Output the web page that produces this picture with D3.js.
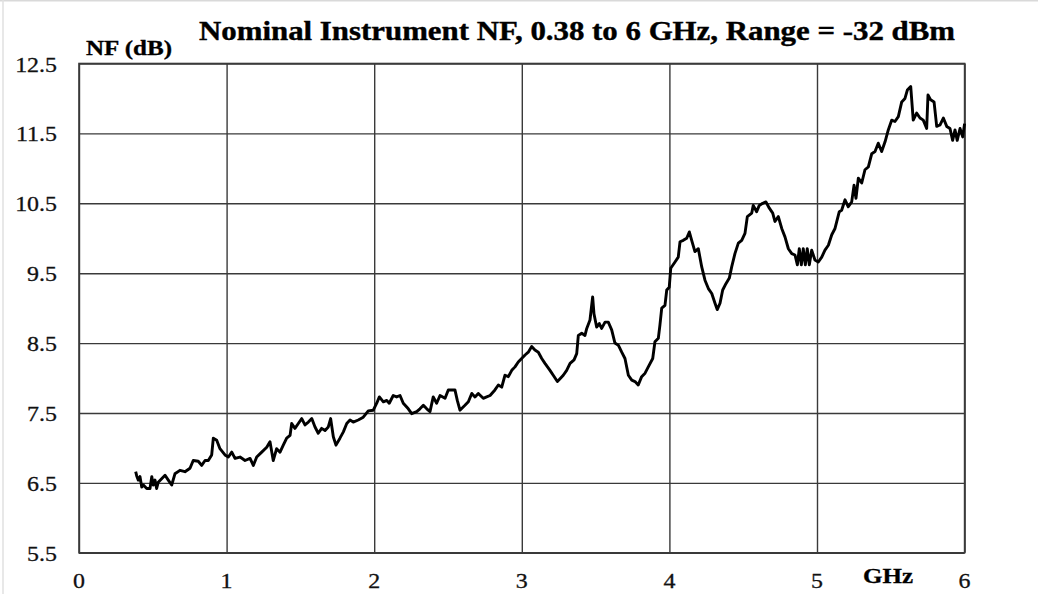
<!DOCTYPE html>
<html><head><meta charset="utf-8">
<script src="https://cdn.jsdelivr.net/npm/d3@7"></script>
<style>html,body{margin:0;padding:0;background:#fff;}svg{display:block;}</style>
</head><body>
<script>
const titleText = "Nominal Instrument NF, 0.38 to 6 GHz, Range = -32 dBm";
const yAxisLabel = "NF (dB)";
const xAxisLabel = "GHz";
const xTicks = [0,1,2,3,4,5,6];
const yTicks = [5.5,6.5,7.5,8.5,9.5,10.5,11.5,12.5];

const freqGHz = [0.384,0.391,0.402,0.413,0.425,0.436,0.459,0.481,0.493,0.503,0.515,0.526,0.537,0.560,0.583,0.605,0.628,0.650,0.684,0.718,0.752,0.774,0.808,0.831,0.854,0.876,0.899,0.910,0.933,0.955,0.989,1.012,1.035,1.057,1.091,1.125,1.159,1.181,1.204,1.238,1.272,1.294,1.316,1.339,1.362,1.384,1.407,1.430,1.441,1.463,1.486,1.509,1.531,1.554,1.577,1.599,1.621,1.644,1.667,1.689,1.705,1.723,1.741,1.768,1.791,1.814,1.836,1.858,1.892,1.926,1.960,1.994,2.017,2.035,2.062,2.085,2.102,
2.129,2.152,2.175,2.197,2.231,2.254,2.288,2.310,2.333,2.356,2.378,2.400,2.423,2.446,2.480,2.502,2.525,2.547,2.563,2.581,2.615,2.638,2.661,2.683,2.705,2.739,2.762,2.785,2.818,2.841,2.864,2.886,2.909,2.932,2.954,2.976,2.999,3.022,3.044,3.067,3.089,3.112,3.135,3.157,3.191,3.213,3.241,3.259,3.281,3.304,3.327,3.354,3.372,3.383,3.406,3.428,3.440,3.462,3.480,3.489,3.507,3.525,3.541,3.564,3.586,3.609,3.631,3.654,3.677,3.699,3.722,3.745,3.767,3.789,3.812,3.835,3.857,3.887,3.902,3.925,3.936,3.948,3.970,3.982,3.999,
4.009,4.038,4.060,4.072,4.094,4.117,4.135,4.151,4.173,4.196,4.219,4.241,4.264,4.287,4.309,4.324,4.343,4.361,4.383,4.406,4.422,4.444,4.467,4.490,4.512,4.528,4.558,4.568,4.591,4.609,4.632,4.654,4.677,4.700,4.715,4.738,4.761,4.783,4.806,4.829,4.851,4.867,4.880,4.894,4.907,4.921,4.934,4.948,4.964,4.986,5.009,5.032,5.054,5.077,5.100,5.122,5.151,5.167,5.190,5.212,5.235,5.251,5.264,5.280,5.303,5.325,5.348,5.371,5.393,5.415,5.438,5.461,5.483,5.506,5.528,5.551,5.574,5.596,5.612,5.635,5.652,5.675,5.698,5.720,5.743,5.752,5.770,5.793,5.811,5.833,5.856,5.879,5.901,5.919,5.935,5.950,5.969,5.987,6.000];

const nfDB = [6.66,6.60,6.54,6.59,6.44,6.47,6.42,6.42,6.59,6.47,6.54,6.42,6.51,6.56,6.61,6.54,6.47,6.63,6.68,6.66,6.71,6.82,6.81,6.75,6.82,6.82,6.90,7.14,7.11,6.99,6.90,6.87,6.94,6.85,6.87,6.82,6.85,6.75,6.87,6.94,7.01,7.09,6.82,6.99,6.94,7.04,7.14,7.18,7.35,7.28,7.35,7.42,7.33,7.37,7.42,7.30,7.21,7.28,7.25,7.30,7.42,7.16,7.04,7.14,7.23,7.35,7.40,7.37,7.40,7.44,7.53,7.54,7.64,7.73,7.66,7.68,7.64,
7.75,7.73,7.75,7.64,7.56,7.49,7.52,7.56,7.61,7.56,7.52,7.73,7.64,7.75,7.71,7.83,7.83,7.83,7.68,7.54,7.61,7.66,7.78,7.73,7.78,7.71,7.73,7.75,7.83,7.90,7.87,8.04,8.02,8.11,8.16,8.23,8.28,8.33,8.37,8.45,8.40,8.37,8.28,8.21,8.11,8.04,7.95,7.99,8.04,8.11,8.21,8.26,8.35,8.61,8.64,8.61,8.71,8.83,9.16,8.92,8.73,8.78,8.71,8.80,8.80,8.69,8.50,8.47,8.37,8.28,8.04,7.97,7.95,7.90,8.02,8.07,8.16,8.28,8.52,8.57,8.76,9.00,9.04,9.26,9.30,
9.57,9.66,9.73,9.95,9.97,10.00,10.09,9.97,9.81,9.85,9.59,9.40,9.28,9.21,9.07,8.98,9.07,9.26,9.35,9.43,9.59,9.78,9.93,9.97,10.07,10.31,10.36,10.47,10.38,10.47,10.50,10.52,10.43,10.36,10.24,10.31,10.14,10.02,9.85,9.78,9.76,9.62,9.85,9.62,9.85,9.62,9.85,9.62,9.83,9.69,9.66,9.73,9.83,9.90,10.05,10.14,10.38,10.40,10.55,10.45,10.52,10.76,10.57,10.86,10.79,10.98,11.02,11.21,11.24,11.36,11.24,11.38,11.55,11.69,11.67,11.74,11.95,12.00,12.12,12.17,11.69,11.79,11.72,11.69,11.57,12.05,11.98,11.95,11.60,11.62,11.72,11.60,11.57,11.40,11.55,11.40,11.57,11.45,11.64];

const W = 1038, H = 594;
const plot = {left: 79, right: 964.6, top: 63.5, bottom: 552.8};
const serif = "'Liberation Serif','Times New Roman',Times,serif";

const svg = d3.select("body").append("svg").attr("width", W).attr("height", H);
svg.append("rect").attr("width", W).attr("height", H).attr("fill", "#fff");
// light frame
svg.append("line").attr("x1",0).attr("x2",W).attr("y1",0.5).attr("y2",0.5).attr("stroke","#d9d9d9").attr("stroke-width",2);
svg.append("line").attr("x1",3).attr("x2",3).attr("y1",0).attr("y2",H).attr("stroke","#e0e0e0").attr("stroke-width",1.5);

const x = d3.scaleLinear().domain([0,6]).range([plot.left, plot.right]);
const y = d3.scaleLinear().domain([5.5,12.5]).range([plot.bottom, plot.top]);

const gridColor = "#3a3a3a";
const xg = svg.append("g").attr("transform", `translate(0,${plot.bottom})`)
  .call(d3.axisBottom(x).tickValues(xTicks).tickSize(-(plot.bottom-plot.top)).tickFormat(""));
const yg = svg.append("g").attr("transform", `translate(${plot.left},0)`)
  .call(d3.axisLeft(y).tickValues(yTicks).tickSize(-(plot.right-plot.left)).tickFormat(""));
[xg, yg].forEach(g => {
  g.select(".domain").remove();
  g.selectAll("line").attr("stroke", gridColor).attr("stroke-width", 1.4);
});
svg.append("rect").attr("x", plot.left).attr("y", plot.top)
  .attr("width", plot.right-plot.left).attr("height", plot.bottom-plot.top)
  .attr("fill","none").attr("stroke", gridColor).attr("stroke-width", 1.6);

// tick labels
yTicks.forEach(v => {
  svg.append("text").attr("transform", `translate(57,${y(v)+8}) scale(1.14,1)`)
    .attr("text-anchor","end").attr("font-family", serif).attr("font-size", 21)
    .attr("fill","#111").attr("stroke","#111").attr("stroke-width",0.3).text(v.toFixed(1));
});
xTicks.forEach(v => {
  svg.append("text").attr("transform", `translate(${x(v)},588) scale(1.14,1)`)
    .attr("text-anchor","middle").attr("font-family", serif).attr("font-size", 21)
    .attr("fill","#111").attr("stroke","#111").attr("stroke-width",0.3).text(String(v));
});

// line
const pts = freqGHz.map((f,i) => [f, nfDB[i]]);
svg.append("path").datum(pts)
  .attr("fill","none").attr("stroke","#000").attr("stroke-width",2.9)
  .attr("stroke-linejoin","round")
  .attr("d", d3.line().x(d => x(d[0])).y(d => y(d[1])));

// titles
svg.append("text").attr("x",199).attr("y",40).attr("font-family",serif).attr("font-weight","bold")
  .attr("font-size",27).attr("textLength",756).attr("lengthAdjust","spacingAndGlyphs")
  .attr("fill","#000").attr("stroke","#000").attr("stroke-width",0.4).text(titleText);
svg.append("text").attr("x",86).attr("y",55).attr("font-family",serif).attr("font-weight","bold")
  .attr("font-size",21).attr("textLength",86).attr("lengthAdjust","spacingAndGlyphs")
  .attr("fill","#000").attr("stroke","#000").attr("stroke-width",0.3).text(yAxisLabel);
svg.append("text").attr("x",863).attr("y",583).attr("font-family",serif).attr("font-weight","bold")
  .attr("font-size",21).attr("textLength",50).attr("lengthAdjust","spacingAndGlyphs")
  .attr("fill","#000").attr("stroke","#000").attr("stroke-width",0.3).text(xAxisLabel);
</script>
</body></html>
